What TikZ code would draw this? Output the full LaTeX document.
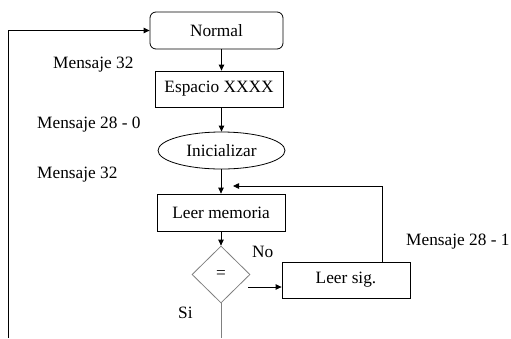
\documentclass[tikz,border=0pt]{standalone}
\usepackage{fontspec}
\setmainfont{Liberation Serif}
\usetikzlibrary{shapes.geometric,arrows.meta}
\begin{document}
\begin{tikzpicture}[x=1pt,y=-1pt,
  font=\rmfamily\fontsize{17.3}{20}\selectfont,
  arr/.style={-{Triangle[length=6pt,width=5.5pt]}, line width=0.8pt},
  boxnode/.style={draw, line width=0.8pt, inner sep=0pt, minimum width=128pt, minimum height=36pt},
  lbl/.style={inner sep=0pt, anchor=west}]
\useasboundingbox (0,0) rectangle (511,338);
\node[boxnode, rounded corners=6pt, minimum width=133pt, minimum height=37pt] (Normal) at (216.5,30.5) {Normal};
\node[boxnode] (Esp) at (219,89) {Espacio XXXX};
\node[draw, ellipse, line width=0.8pt, inner sep=0pt, minimum width=127pt, minimum height=37pt] (Ini) at (221.5,150.5) {Inicializar};
\node[boxnode, minimum height=37pt] (Mem) at (221,212.5) {Leer memoria};
\node[draw=gray, diamond, line width=0.8pt, inner sep=0pt, minimum width=58pt, minimum height=57pt] (D) at (221,274.5) {=};
\node[boxnode] (Sig) at (346,280) {Leer sig.};
\node[lbl] (m1) at (53,65) {Mensaje 32};
\node[lbl] (m2) at (37,125) {Mensaje 28 - 0};
\node[lbl] (m3) at (37,175) {Mensaje 32};
\node[lbl] (m4) at (406,242) {Mensaje 28 - 1};
\node[lbl] (no) at (252,252) {No};
\node[lbl] (si) at (178,313) {Si};
\coordinate (L) at (8,338);
\coordinate (fb) at (382,186);
\coordinate (fbtip) at (233,186);
\coordinate (dout) at (248,287);
\coordinate (bot) at (221,338);
\draw[arr] (L) |- (Normal.west);
\draw[arr] (Normal.south -| Ini.center) -- (Esp.north -| Ini.center);
\draw[arr] (Esp.south -| Ini.center) -- (Ini.north -| Ini.center);
\draw[arr] (Ini.south -| Mem.center) -- (Mem.north);
\draw[arr] (Mem.south) -- (D.north);
\draw[arr] (dout) -- (dout -| Sig.west);
\draw[arr] (Sig.north -| fb) |- (fbtip);
\draw[gray, line width=0.8pt] (D.south) -- (bot);
\end{tikzpicture}
\end{document}
